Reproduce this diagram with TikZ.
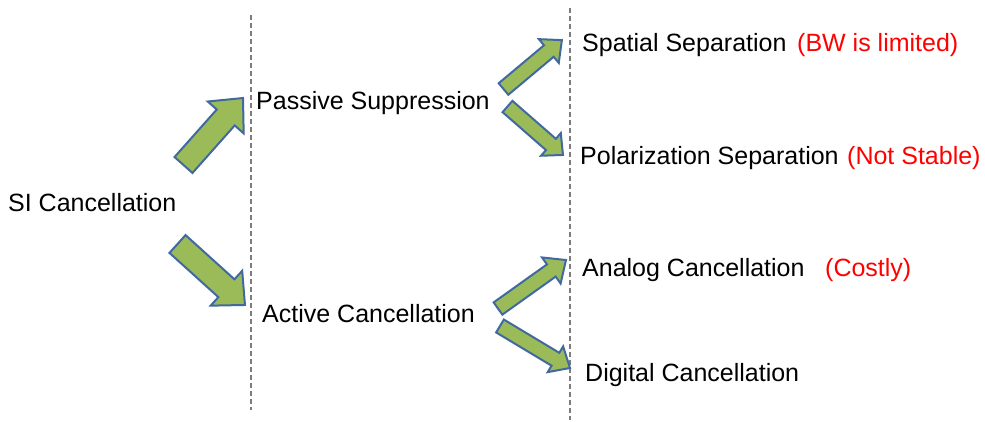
\documentclass[tikz,border=0pt]{standalone}
\usepackage{fontspec}
\setmainfont{Liberation Sans}
\usetikzlibrary{calc}
\definecolor{arrowfill}{RGB}{155,187,89}
\definecolor{arrowline}{RGB}{65,105,160}
\definecolor{divider}{RGB}{125,125,125}
\definecolor{note}{RGB}{255,0,0}
\tikzset{
  label/.style={anchor=base west, inner sep=0pt, font=\fontsize{25}{30}\selectfont},
  remark/.style={label, text=note},
  blockarrowstyle/.style={fill=arrowfill, draw=arrowline, line width=2pt, line join=miter},
  divline/.style={draw=divider, line width=1.3pt, dash pattern=on 5pt off 3pt},
}
% block arrow from tail point #1 to tip point #2;
% #3 half shaft width, #4 half head width, #5 head length
\newcommand\blockarrow[5]{%
  \path[blockarrowstyle] let \p1=($(#2)-(#1)$), \n1={atan2(\y1,\x1)}, \n2={veclen(\x1,\y1)} in
    {[shift={(#1)}, rotate=\n1]
      (0pt,-#3) -- ({\n2-#5},-#3) -- ({\n2-#5},-#4) -- (\n2,0pt)
      -- ({\n2-#5},#4) -- ({\n2-#5},#3) -- (0pt,#3) -- cycle};
}
\begin{document}
\begin{tikzpicture}[x=1pt, y=-1pt]
\useasboundingbox (0,0) rectangle (985,421);

% column dividers
\coordinate (d1top) at (251,15);
\coordinate (d1bot) at (251,410);
\coordinate (d2top) at (570,8);
\coordinate (d2bot) at (570,420);
\path[divline] (d1top) -- (d1bot);
\path[divline] (d2top) -- (d2bot);

% labels
\node[label] (si) at (8,211) {SI Cancellation};
\node[label] (passive) at (256,109) {Passive Suppression};
\node[label] (active) at (262,322) {Active Cancellation};
\node[label] (spatial) at (582,51) {Spatial Separation};
\node[remark] (spatialnote) at (797,51) {(BW is limited)};
\node[label] (polar) at (580,164) {Polarization Separation};
\node[remark] (polarnote) at (847,164) {(Not Stable)};
\node[label] (analog) at (582,276) {Analog Cancellation};
\node[remark] (analognote) at (825,276) {(Costly)};
\node[label] (digital) at (585,381) {Digital Cancellation};

% arrow end points
\coordinate (t1) at (183.5,165);  \coordinate (h1) at (243,98);
\coordinate (t2) at (177.5,244);  \coordinate (h2) at (245,305);
\coordinate (t3) at (503.5,89);   \coordinate (h3) at (562,40);
\coordinate (t4) at (507.5,106.5);\coordinate (h4) at (563,155);
\coordinate (t5) at (498,308.5);  \coordinate (h5) at (566,260);
\coordinate (t6) at (500,326);    \coordinate (h6) at (570,368);

% block arrows
\blockarrow{t1}{h1}{12pt}{24pt}{26pt}
\blockarrow{t2}{h2}{12pt}{23.5pt}{25pt}
\blockarrow{t3}{h3}{7.5pt}{15.5pt}{17pt}
\blockarrow{t4}{h4}{7.5pt}{15pt}{16pt}
\blockarrow{t5}{h5}{7.5pt}{16pt}{18pt}
\blockarrow{t6}{h6}{7.5pt}{15pt}{17pt}
\end{tikzpicture}
\end{document}
